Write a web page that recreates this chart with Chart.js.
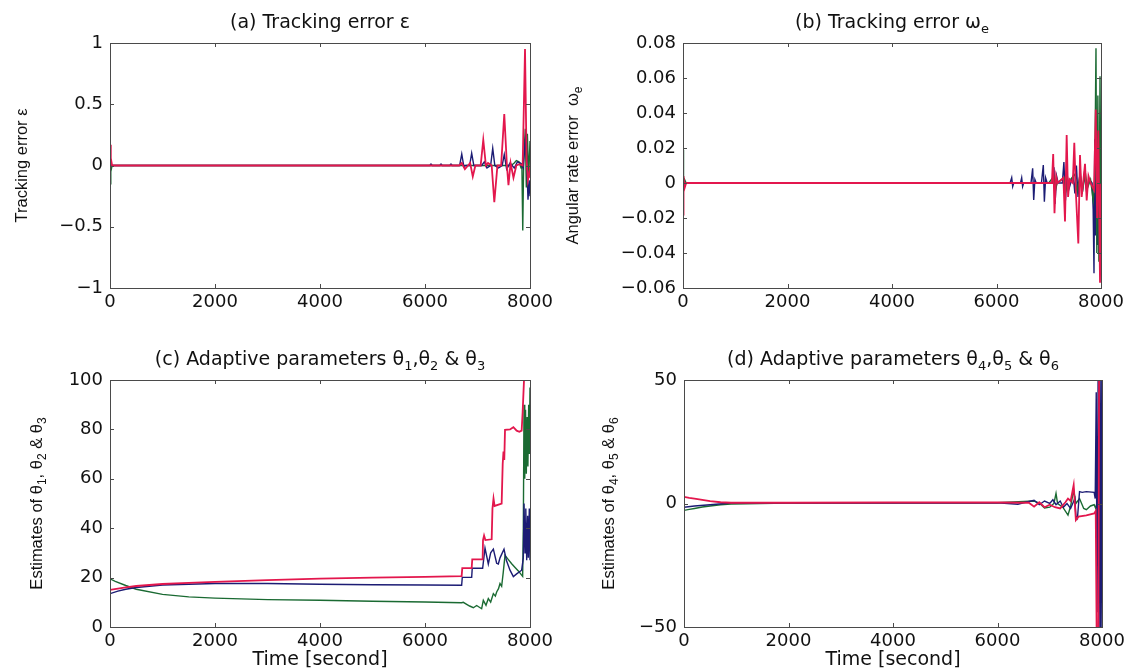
<!DOCTYPE html>
<html>
<head>
<meta charset="utf-8">
<title>Tracking errors and adaptive parameters</title>
<script src="https://cdn.jsdelivr.net/npm/chart.js@4.4.1/dist/chart.umd.min.js"></script>
<style>
  body { margin: 0; background: #fff; }
  #wrap { position: relative; width: 1129px; height: 670px; }
  canvas { position: absolute; }
</style>
</head>
<body>
<div id="wrap">
  <canvas id="chartA" width="564" height="330" style="left:0;top:0"></canvas>
  <canvas id="chartB" width="565" height="330" style="left:564px;top:0"></canvas>
  <canvas id="chartC" width="564" height="340" style="left:0;top:330px"></canvas>
  <canvas id="chartD" width="565" height="340" style="left:564px;top:330px"></canvas>
</div>
<script>
// time axis, shared by all four panels
var timeTicks = [0, 2000, 4000, 6000, 8000];

// (a) tracking error epsilon, [time, value]
var epsRed = [[0,0.17],[15,0.06],[40,0],[6650,0],[6700,0.02],[6760,-0.03],[6820,0],[6860,0.02],[6910,-0.09],[6960,0],
  [7060,0],[7110,0.21],[7160,0],[7200,0.02],[7270,0],[7320,-0.30],[7380,0],[7450,0],[7510,0.42],[7560,0],[7590,-0.16],[7630,0.02],
  [7685,-0.10],[7740,0],[7800,0.01],[7860,0],[7905,0.95],[7935,0.05],[7960,-0.12],[7990,-0.05],[8000,-0.1]];
var epsBlue = [[0,0.04],[20,0],[6090,0],[6114,0.012],[6140,0],[6280,0],[6305,0.012],[6330,0],[6470,0],[6495,0.012],[6520,0],[6660,0],
  [6700,0.094],[6740,-0.01],[6780,0],[6850,0],[6889,0.10],[6930,0],[7080,0],[7130,0.03],[7180,-0.02],[7250,0],[7290,0.14],[7330,0],
  [7400,-0.02],[7470,0],[7510,0.09],[7555,-0.03],[7620,0.02],[7700,-0.02],[7760,0.03],[7820,0.02],[7870,-0.02],[7920,0.25],
  [7962,-0.28],[7985,-0.12],[8000,-0.25]];
var epsGreen = [[0,-0.15],[15,-0.05],[40,0],[7640,0],[7700,0.02],[7740,0.04],[7790,0.03],[7830,-0.02],[7845,0.02],[7862,-0.53],
  [7880,0.05],[7910,0.30],[7930,-0.18],[7950,0.26],[7975,-0.1],[8000,0.2]];

// (b) angular rate error omega_e
var omgRed = [[0,-0.018],[10,0.004],[30,-0.003],[60,0],[7060,0],[7085,0.0166],[7110,-0.0173],[7140,0.004],[7170,0],[7280,0.003],
  [7311,-0.022],[7343,0.0274],[7370,-0.008],[7400,0.002],[7460,0],[7489,0.023],[7520,-0.006],[7566,-0.0345],[7598,0.016],
  [7630,-0.008],[7694,0.011],[7726,-0.01],[7760,0.004],[7800,0],[7866,-0.004],[7900,0.042],[7925,-0.02],[7949,0.03],
  [7981,-0.057],[8000,0]];
var omgBlue = [[0,0.003],[20,0],[6260,0],[6291,0.003],[6310,-0.002],[6330,0],[6460,0],[6482,0.003],[6500,-0.002],[6520,0],
  [6660,0],[6692,0.0084],[6712,-0.0097],[6735,0.002],[6760,0],[6860,0],[6896,0.0103],[6916,-0.0107],[6940,0.003],[6970,0],
  [7070,0],[7100,0.009],[7120,-0.012],[7150,0.004],[7180,0],[7260,0],[7290,0.012],[7320,-0.01],[7350,0.006],[7380,-0.004],
  [7420,0],[7470,0.004],[7500,-0.006],[7530,0.01],[7560,-0.008],[7600,0.007],[7640,-0.006],[7680,0.005],[7720,-0.004],
  [7780,0.002],[7830,0],[7850,-0.015],[7866,-0.0515],[7880,0.025],[7895,-0.03],[7910,0.026],[7925,-0.035],[7940,0.025],
  [7955,-0.04],[7970,0.02],[7985,-0.045],[8000,0.03]];
var omgGreen = [[0,0.019],[10,0],[30,0.002],[60,0],[7000,0],[7100,0.004],[7130,-0.004],[7160,0],[7300,0.003],[7330,-0.004],
  [7360,0],[7500,0.005],[7540,-0.005],[7600,0.005],[7650,-0.004],[7700,0.006],[7740,-0.003],[7800,0.002],[7850,-0.01],
  [7880,0],[7904,0.077],[7920,-0.04],[7940,0.05],[7960,-0.045],[7981,0.061],[8000,-0.02]];

// (c) estimates of theta1..theta3
var th13Red = [[0,15],[150,15.5],[300,16],[500,16.6],[1000,17.4],[1500,17.9],[2000,18.3],[3000,19.0],[4000,19.6],[5000,20.0],
  [6000,20.3],[6698,20.6],[6710,23.8],[6889,23.8],[6900,27.4],[7098,27.4],[7105,35.2],[7125,37],[7150,35.2],[7270,35.5],
  [7285,48],[7305,52],[7325,49],[7460,50],[7480,66],[7495,71],[7510,67.6],[7524,79.8],[7619,80],[7683,80.9],[7746,79.5],
  [7797,79],[7841,79.5],[7860,87],[7886,100],[7900,130],[8000,130]];
var th13Blue = [[0,13.5],[150,14.5],[300,15.3],[500,16],[1000,17],[2000,17.6],[3000,17.6],[4000,17.3],[5000,17.1],[6000,17.0],
  [6698,16.9],[6710,20.1],[6889,20.1],[6900,23.8],[7098,23.8],[7143,31.9],[7206,25.5],[7251,30],[7302,31.5],[7365,25.8],
  [7397,25.5],[7429,28],[7505,31.5],[7550,27],[7619,23],[7683,20.4],[7746,21.5],[7841,23],[7873,28],[7886,50],[7905,30],
  [7920,48],[7937,27],[7955,45],[7968,28],[7987,48],[8000,27]];
var th13Green = [[0,19.5],[100,18.5],[300,16.8],[500,15.3],[1000,13.2],[1500,12.2],[2000,11.7],[3000,11.1],[4000,10.8],
  [5000,10.4],[6000,10.1],[6698,9.8],[6730,10.0],[6794,9.2],[6850,8.5],[6921,7.8],[6984,8.7],[7050,7.8],[7079,7.4],[7111,10.8],
  [7162,8.8],[7206,11.5],[7251,10.1],[7302,13.5],[7340,12.5],[7365,14.2],[7400,15.5],[7429,17.6],[7460,16.5],[7490,22],
  [7524,29],[7580,27.5],[7651,25.6],[7720,24],[7778,22.7],[7841,21],[7860,20.5],[7873,40],[7886,90],[7900,60],[7915,88],
  [7930,62],[7945,85],[7960,65],[7975,90],[7987,70],[8000,97]];

// (d) estimates of theta4..theta6
var th46Red = [[0,2.7],[100,2.3],[200,2.0],[350,1.5],[500,1.0],[700,0.5],[900,0.3],[2000,0.3],[4000,0.4],[6000,0.4],[6600,0.3],
  [6700,-1.3],[6800,0.5],[6900,-1.5],[7000,-0.5],[7100,-1.5],[7200,-2],[7300,0.5],[7349,2],[7400,1],[7458,7.5],[7480,0],
  [7500,-6.7],[7550,-5.3],[7700,-4.8],[7850,-4],[7880,-3],[7900,-60],[7930,-60],[7945,60],[8000,60]];
var th46Blue = [[0,-1.5],[200,-1],[500,-0.5],[900,0.2],[6000,0.3],[6390,-0.3],[6500,0.3],[6700,1.3],[6800,-0.5],[6900,1.0],
  [7000,0],[7060,1.5],[7120,-0.5],[7200,1.0],[7260,-1.5],[7330,0],[7400,-2],[7480,2],[7500,-5],[7530,-6],[7570,4.8],[7620,4.5],
  [7700,4.8],[7850,4.5],[7870,2],[7890,45],[7905,-44],[7925,50],[7940,-50],[7955,50],[7970,-50],[7985,50],[8000,-50]];
var th46Green = [[0,-2.8],[100,-2.4],[200,-2.0],[350,-1.4],[500,-1.0],[700,-0.5],[900,-0.2],[2000,0.2],[6000,0.3],[6700,1.0],
  [6800,0.2],[6900,-1.8],[7000,-1.5],[7080,0],[7120,4.1],[7150,0],[7250,-1.5],[7349,-4.7],[7400,-1],[7458,5.4],[7500,0],
  [7570,2],[7650,-2],[7700,-2.5],[7780,-1],[7850,-0.5],[7880,-2],[7900,0],[8000,0]];

var RED = '#e3174d', BLUE = '#1c1c74', GREEN = '#1a6a32';

// text with subscripts: a part starting with '_' is drawn as a subscript
function drawRich(ctx, parts, x, y, size, family) {
  var w = 0;
  parts.forEach(function (p) {
    var sub = p[0] == '_';
    ctx.font = (sub ? Math.round(size * 0.7) : size) + 'px ' + family;
    w += ctx.measureText(sub ? p.slice(1) : p).width;
  });
  var cx = x - w / 2;
  ctx.textAlign = 'left';
  ctx.textBaseline = 'middle';
  parts.forEach(function (p) {
    var sub = p[0] == '_';
    var t = sub ? p.slice(1) : p;
    ctx.font = (sub ? Math.round(size * 0.7) : size) + 'px ' + family;
    ctx.fillText(t, cx, sub ? y + size * 0.35 : y);
    cx += ctx.measureText(t).width;
  });
}

// box round the plot with small inward ticks on every side
var framePlugin = {
  id: 'frame',
  afterDatasetsDraw: function (chart) {
    var ctx = chart.ctx, a = chart.chartArea, xs = chart.scales.x, ys = chart.scales.y;
    ctx.save();
    ctx.strokeStyle = '#4a4a4a';
    ctx.lineWidth = 1;
    ctx.strokeRect(Math.round(a.left) + 0.5, Math.round(a.top) + 0.5, Math.round(a.width), Math.round(a.height));
    ctx.beginPath();
    xs.ticks.forEach(function (t) {
      var px = Math.round(xs.getPixelForValue(t.value)) + 0.5;
      ctx.moveTo(px, a.top); ctx.lineTo(px, a.top + 4);
      ctx.moveTo(px, a.bottom); ctx.lineTo(px, a.bottom - 4);
    });
    ys.ticks.forEach(function (t) {
      var py = Math.round(ys.getPixelForValue(t.value)) + 0.5;
      ctx.moveTo(a.left, py); ctx.lineTo(a.left + 4, py);
      ctx.moveTo(a.right, py); ctx.lineTo(a.right - 4, py);
    });
    ctx.stroke();
    ctx.restore();
  }
};

// panel title, y label (rotated) and x label
var textPlugin = {
  id: 'panelText',
  afterDraw: function (chart, args, opts) {
    var ctx = chart.ctx, a = chart.chartArea;
    var cx = (a.left + a.right) / 2, cy = (a.top + a.bottom) / 2;
    ctx.save();
    ctx.fillStyle = '#111';
    drawRich(ctx, opts.title, cx, a.top - 20, 19, '"DejaVu Sans"');
    if (opts.xLabel) {
      drawRich(ctx, [opts.xLabel], cx, a.bottom + 33, 19, '"DejaVu Sans"');
    }
    ctx.translate(opts.yLabelX, cy);
    ctx.rotate(-Math.PI / 2);
    drawRich(ctx, opts.yLabel, 0, 0, 16.5, '"Liberation Sans"');
    ctx.restore();
  }
};

function tickText(v) {
  var r = Math.round(v * 1000) / 1000;
  return String(r).replace('-', '\u2212');
}

function makePanel(id, cfg) {
  var tickFont = { family: '"DejaVu Sans"', size: 18 };
  return new Chart(document.getElementById(id), {
    type: 'line',
    data: {
      // the red trace is listed first so it ends up on top
      datasets: cfg.series.map(function (s, i) {
        return {
          data: s[0].map(function (p) { return { x: p[0], y: p[1] }; }),
          borderColor: s[1],
          borderWidth: i == 0 ? 1.8 : 1.4,
          pointRadius: 0,
          tension: 0
        };
      })
    },
    options: {
      responsive: false,
      animation: false,
      layout: { padding: cfg.padding },
      plugins: {
        legend: { display: false },
        tooltip: { enabled: false },
        panelText: cfg.text
      },
      scales: {
        x: {
          type: 'linear',
          min: timeTicks[0],
          max: timeTicks[timeTicks.length - 1],
          grid: { display: false, drawTicks: false },
          border: { display: false },
          ticks: { stepSize: 2000, padding: 4, color: '#111', font: tickFont, maxRotation: 0,
            callback: function (v) { return String(v); } },
          afterFit: function (s) { s.height = cfg.xHeight; }
        },
        y: {
          type: 'linear',
          min: cfg.yMin,
          max: cfg.yMax,
          grid: { display: false, drawTicks: false },
          border: { display: false },
          ticks: { stepSize: cfg.yStep, padding: 7, color: '#111', font: tickFont, callback: tickText },
          afterFit: function (s) { s.width = cfg.yWidth; }
        }
      }
    },
    plugins: [framePlugin, textPlugin]
  });
}

makePanel('chartA', {
  series: [[epsRed, RED], [epsBlue, BLUE], [epsGreen, GREEN]],
  yMin: -1, yMax: 1, yStep: 0.5,
  padding: { left: 0, right: 34, top: 43, bottom: 0 }, yWidth: 110, xHeight: 42,
  text: { title: ['(a) Tracking error \u03b5'], yLabel: ['Tracking error \u03b5'], yLabelX: 22 }
});

makePanel('chartB', {
  series: [[omgRed, RED], [omgGreen, GREEN], [omgBlue, BLUE]],
  yMin: -0.06, yMax: 0.08, yStep: 0.02,
  padding: { left: 0, right: 28, top: 43, bottom: 0 }, yWidth: 119, xHeight: 42,
  text: { title: ['(b) Tracking error \u03c9', '_e'], yLabel: ['Angular rate error  \u03c9', '_e'], yLabelX: 9 }
});

makePanel('chartC', {
  series: [[th13Red, RED], [th13Blue, BLUE], [th13Green, GREEN]],
  yMin: 0, yMax: 100, yStep: 20,
  padding: { left: 0, right: 34, top: 50, bottom: 0 }, yWidth: 110, xHeight: 43,
  text: { title: ['(c) Adaptive parameters \u03b8', '_1', ',\u03b8', '_2', ' & \u03b8', '_3'],
    yLabel: ['Estimates of \u03b8', '_1', ', \u03b8', '_2', ' & \u03b8', '_3'], yLabelX: 37, xLabel: 'Time [second]' }
});

makePanel('chartD', {
  series: [[th46Red, RED], [th46Blue, BLUE], [th46Green, GREEN]],
  yMin: -50, yMax: 50, yStep: 50,
  padding: { left: 0, right: 27, top: 50, bottom: 0 }, yWidth: 120, xHeight: 43,
  text: { title: ['(d) Adaptive parameters \u03b8', '_4', ',\u03b8', '_5', ' & \u03b8', '_6'],
    yLabel: ['Estimates of \u03b8', '_4', ', \u03b8', '_5', ' & \u03b8', '_6'], yLabelX: 45, xLabel: 'Time [second]' }
});
</script>
</body>
</html>
